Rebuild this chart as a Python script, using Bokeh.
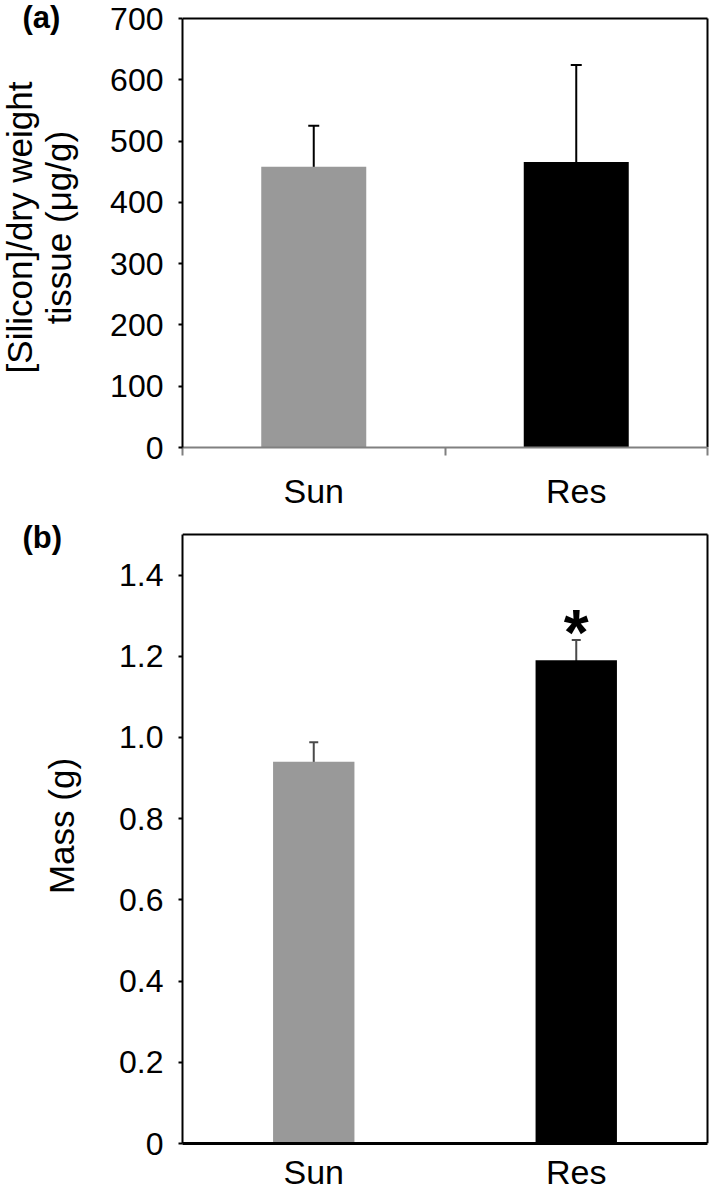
import math
from bokeh.plotting import figure
from bokeh.layouts import column, row
from bokeh.models import (ColumnDataSource, FixedTicker, Whisker, TeeHead, Label,
                          Range1d, PrintfTickFormatter)
from bokeh.core.properties import value
from bokeh.embed import file_html
from bokeh.resources import INLINE

# ---------------- data ----------------
categories = ["Sun", "Res"]
silicon = [458, 466]
silicon_err = [67, 158]
mass = [0.94, 1.19]
mass_err = [0.048, 0.05]
bar_colors = ["#999999", "#000000"]
significance = ["", "*"]
y_ticks_a = [0, 100, 200, 300, 400, 500, 600, 700]
y_ticks_b = [0, 0.2, 0.4, 0.6, 0.8, 1.0, 1.2, 1.4]
panel_labels = ["(a)", "(b)"]
ylabel_a = ["[Silicon]/dry weight", "tissue (\u03bcg/g)"]
ylabel_b = ["Mass (g)"]

FONT = "Liberation Sans"
W = 709
SIDE = 106              # strip holding the panel letter and the axis title
MAIN_LEFT = 182 - SIDE  # room for ticks + tick labels in the main figure
FRAME_W = W - SIDE - MAIN_LEFT
BOX_W = 525             # plotted box width in px (rest is a tiny right pad)
n = len(categories)
xs = [i + 0.5 for i in range(n)]
bounds = list(range(n + 1))
x_end = n * FRAME_W / BOX_W


def side_strip(height, bottom, letter, letter_y, lines, line_x, line_y):
    fh = height - bottom
    s = figure(width=SIDE, height=height, x_range=Range1d(0, SIDE), y_range=Range1d(0, fh),
               output_backend="svg", toolbar_location=None,
               x_axis_location=None, y_axis_location=None, outline_line_color=None,
               min_border_left=0, min_border_right=0, min_border_top=0,
               min_border_bottom=bottom)
    s.grid.visible = False
    s.text(x=[22], y=[fh - letter_y], text=[letter], text_font=value(FONT),
           text_font_size=value("31px"), text_font_style="bold", text_color="black",
           text_align="left", text_baseline="middle")
    s.text(x=line_x, y=[fh - line_y] * len(lines), text=lines, angle=math.pi / 2,
           text_font=value(FONT), text_font_size=value("35px"), text_color="black",
           text_align="center", text_baseline="middle")
    return s


def main_panel(height, top_gap, bottom, ymax):
    fh = height - bottom
    y_end = ymax * fh / (fh - top_gap)
    p = figure(width=W - SIDE, height=height, x_range=Range1d(0, x_end),
               y_range=Range1d(0, y_end), output_backend="svg", toolbar_location=None,
               min_border_left=MAIN_LEFT, min_border_right=0,
               min_border_top=0, min_border_bottom=bottom)
    p.xgrid.visible = False
    p.ygrid.visible = False
    p.outline_line_color = None
    # top and right sides of the plot box
    p.segment(x0=[0, n], y0=[ymax, 0], x1=[n, n], y1=[ymax, ymax],
              line_color="black", line_width=2)
    for ax in (p.xaxis[0], p.yaxis[0]):
        ax.major_label_text_font = FONT
        ax.major_label_text_color = "black"
    ax = p.xaxis[0]
    ax.bounds = (0, n)
    ax.major_label_overrides = {x: c for x, c in zip(xs, categories)}
    ax.major_tick_line_color = None
    ax.major_tick_out = 0
    ax.major_label_text_font_size = "34px"
    ay = p.yaxis[0]
    ay.bounds = (0, ymax)
    ay.major_tick_out = 4
    ay.major_tick_in = 0
    ay.major_tick_line_width = 2
    ay.axis_line_width = 2
    ay.major_label_text_font_size = "32px"
    ay.major_label_standoff = 15
    return p, fh


# ---------------- panel (a) ----------------
H1, BOT1, GAP1 = 516, 69, 18
ymax_a = 700
p1, fh1 = main_panel(H1, GAP1, BOT1, ymax_a)
src1 = ColumnDataSource(dict(x=xs, top=silicon, color=bar_colors,
                             upper=[v + e for v, e in zip(silicon, silicon_err)],
                             lower=[v - e for v, e in zip(silicon, silicon_err)]))
p1.vbar(x="x", top="top", width=0.4, fill_color="color", line_color=None, source=src1)
p1.add_layout(Whisker(base="x", upper="upper", lower="lower", source=src1,
                      line_color="black", line_width=2,
                      upper_head=TeeHead(size=11, line_color="black", line_width=2),
                      lower_head=TeeHead(size=11, line_color="black", line_width=2)))
xa = p1.xaxis[0]
xa.ticker = FixedTicker(ticks=xs, minor_ticks=bounds)
xa.minor_tick_line_color = "#808080"
xa.minor_tick_line_width = 2
xa.minor_tick_out = 8
xa.minor_tick_in = 0
xa.axis_line_color = "#808080"
xa.axis_line_width = 2
xa.major_label_standoff = 16
ya = p1.yaxis[0]
ya.ticker = FixedTicker(ticks=y_ticks_a, minor_ticks=[])

s1 = side_strip(H1, BOT1, panel_labels[0], 17, ylabel_a, [18.5, 58], 227)

# ---------------- panel (b) ----------------
H2, BOT2, GAP2 = 677, 47, 18
ymax_b = 1.5
p2, fh2 = main_panel(H2, GAP2, BOT2, ymax_b)
src2 = ColumnDataSource(dict(x=xs, top=mass, color=bar_colors,
                             upper=[v + e for v, e in zip(mass, mass_err)],
                             lower=[v - e for v, e in zip(mass, mass_err)]))
p2.vbar(x="x", top="top", width=0.31, fill_color="color", line_color=None, source=src2)
p2.add_layout(Whisker(base="x", upper="upper", lower="lower", source=src2,
                      line_color="#4a4a4a", line_width=2,
                      upper_head=TeeHead(size=9, line_color="#4a4a4a", line_width=2),
                      lower_head=TeeHead(size=9, line_color="#4a4a4a", line_width=2)))
px_b = ymax_b / (fh2 - GAP2)
for x, v, e, s in zip(xs, mass, mass_err, significance):
    if s:
        p2.add_layout(Label(x=x, y=v + e + 7 * px_b, text=s, text_font=FONT,
                            text_font_size="64px", text_font_style="bold",
                            text_align="center", text_baseline="middle",
                            text_color="black"))
xb = p2.xaxis[0]
xb.ticker = FixedTicker(ticks=xs, minor_ticks=[])
xb.axis_line_color = "black"
xb.axis_line_width = 3
xb.major_label_standoff = 9
yb = p2.yaxis[0]
yb.ticker = FixedTicker(ticks=y_ticks_b, minor_ticks=[])
yb.formatter = PrintfTickFormatter(format="%.1f")
yb.major_label_overrides = {0: "0"}

s2 = side_strip(H2, BOT2, panel_labels[1], 21, ylabel_b, [61], 311)

layout = column(row(s1, p1, spacing=0), row(s2, p2, spacing=0), spacing=0)
open("out.html", "w").write(file_html(layout, INLINE))
